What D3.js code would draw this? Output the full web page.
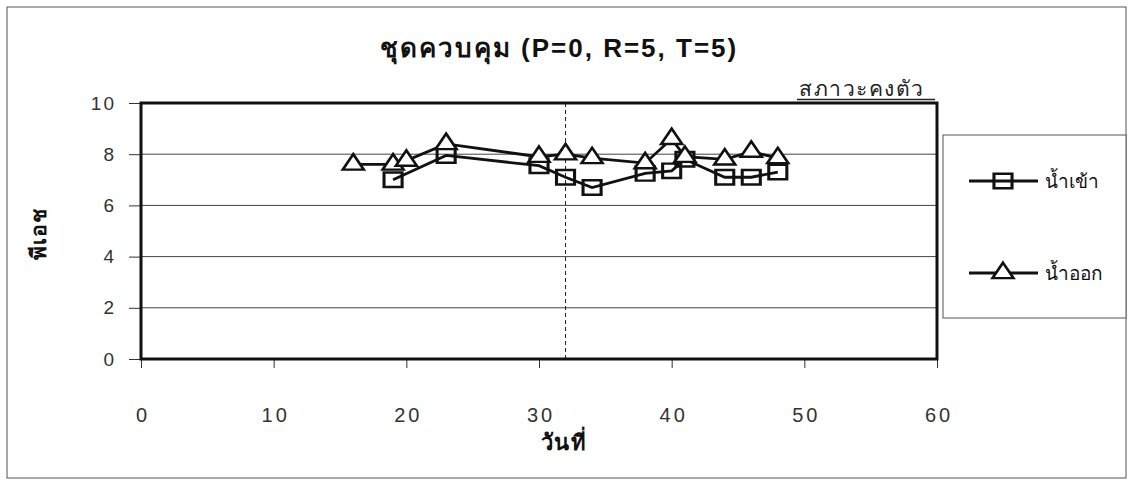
<!DOCTYPE html>
<html>
<head>
<meta charset="utf-8">
<script src="https://cdn.jsdelivr.net/npm/d3@7"></script>
<style>
    body { margin: 0; background: #fff; }
    svg { display: block; font-family: Arial, "Liberation Sans", "Noto Sans", sans-serif; }
</style>
</head>
<body>
<svg id="chart" width="1128" height="482"></svg>
<script>
// วันที่ (day) and pH readings
const inDays = [19, 23, 30, 32, 34, 38, 40, 41, 44, 46, 48];
const inPH = [7.0, 7.95, 7.55, 7.1, 6.7, 7.25, 7.35, 7.8, 7.1, 7.1, 7.3];

const outDays = [16, 19, 20, 23, 30, 32, 34, 38, 40, 41, 44, 46, 48];
const outPH = [7.6, 7.6, 7.75, 8.4, 7.9, 8.0, 7.85, 7.65, 8.6, 7.9, 7.8, 8.1, 7.85];

const xTicks = [0, 10, 20, 30, 40, 50, 60];
const yTicks = [0, 2, 4, 6, 8, 10];
const steadyDay = 32;

const title = 'ชุดควบคุม (P=0, R=5, T=5)';
const xTitle = 'วันที่';
const yTitle = 'พีเอช';
const steadyLabel = 'สภาวะคงตัว';
const seriesNames = ['น้ำเข้า', 'น้ำออก'];

const svg = d3.select('#chart');

// outer chart frame
svg.append('rect')
    .attr('x', 7).attr('y', 7)
    .attr('width', 1119).attr('height', 471)
    .attr('fill', 'none')
    .attr('stroke', '#555')
    .attr('stroke-width', 1);

const plot = { left: 141, right: 937, top: 103, bottom: 359 };

const x = d3.scaleLinear().domain([0, 60]).range([plot.left, plot.right]);
const y = d3.scaleLinear().domain([0, 10]).range([plot.bottom, plot.top]);

// gridlines
svg.append('g')
    .selectAll('line')
    .data(yTicks.filter((d) => d > 0 && d < 10))
    .enter()
    .append('line')
    .attr('x1', plot.left).attr('x2', plot.right)
    .attr('y1', (d) => y(d)).attr('y2', (d) => y(d))
    .attr('stroke', '#444')
    .attr('stroke-width', 1);

// steady-state marker
svg.append('line')
    .attr('x1', x(steadyDay)).attr('x2', x(steadyDay))
    .attr('y1', plot.top).attr('y2', plot.bottom)
    .attr('stroke', '#222')
    .attr('stroke-width', 1)
    .attr('stroke-dasharray', '4,3');

// axes
const xAxis = svg.append('g')
    .attr('transform', `translate(0,${plot.bottom})`)
    .call(d3.axisBottom(x).tickValues(xTicks).tickSize(9).tickPadding(40).tickSizeOuter(0));
xAxis.select('.domain').remove();
xAxis.selectAll('text')
    .attr('font-size', 20)
    .attr('letter-spacing', '3px')
    .attr('dx', '1.5px')
    .attr('fill', '#333');
xAxis.selectAll('line').attr('stroke', '#333');

const yAxis = svg.append('g')
    .attr('transform', `translate(${plot.left},0)`)
    .call(d3.axisLeft(y).tickValues(yTicks).tickSize(12).tickPadding(13).tickSizeOuter(0));
yAxis.select('.domain').remove();
yAxis.selectAll('text')
    .attr('font-size', 19)
    .attr('letter-spacing', '2px')
    .attr('fill', '#333');
yAxis.selectAll('line').attr('stroke', '#333');

// plot frame
svg.append('rect')
    .attr('x', plot.left).attr('y', plot.top)
    .attr('width', plot.right - plot.left)
    .attr('height', plot.bottom - plot.top)
    .attr('fill', 'none')
    .attr('stroke', '#111')
    .attr('stroke-width', 3);

// steady-state label, underlined
svg.append('text')
    .attr('x', 862).attr('y', 96)
    .attr('text-anchor', 'middle')
    .attr('font-size', 21)
    .attr('letter-spacing', '1.5px')
    .attr('fill', '#222')
    .text(steadyLabel);
svg.append('line')
    .attr('x1', 797).attr('x2', 935)
    .attr('y1', 99.5).attr('y2', 99.5)
    .attr('stroke', '#222')
    .attr('stroke-width', 1.5);

// series
const inData = inDays.map((d, i) => ({ x: d, y: inPH[i] }));
const outData = outDays.map((d, i) => ({ x: d, y: outPH[i] }));

const line = d3.line()
    .x((d) => x(d.x))
    .y((d) => y(d.y));

[inData, outData].forEach((data) => {
    svg.append('path')
        .datum(data)
        .attr('fill', 'none')
        .attr('stroke', '#111')
        .attr('stroke-width', 2.8)
        .attr('d', line);
});

const squareSym = d3.symbol().type(d3.symbolSquare).size(270);
const triSym = d3.symbol().type(d3.symbolTriangle).size(190);

svg.append('g')
    .selectAll('path')
    .data(inData)
    .enter()
    .append('path')
    .attr('transform', (d) => `translate(${x(d.x)},${y(d.y)}) scale(1.1,0.88)`)
    .attr('d', squareSym)
    .attr('fill', 'none')
    .attr('stroke', '#111')
    .attr('stroke-width', 2.8);

svg.append('g')
    .selectAll('path')
    .data(outData)
    .enter()
    .append('path')
    .attr('transform', (d) => `translate(${x(d.x)},${y(d.y)}) scale(1.0,0.85)`)
    .attr('d', triSym)
    .attr('fill', '#fff')
    .attr('stroke', '#111')
    .attr('stroke-width', 2.8);

// titles
svg.append('text')
    .attr('x', 559).attr('y', 57)
    .attr('text-anchor', 'middle')
    .attr('font-size', 26)
    .attr('font-weight', 'bold')
    .attr('letter-spacing', '2px')
    .attr('fill', '#111')
    .text(title);

svg.append('text')
    .attr('x', 564).attr('y', 450)
    .attr('text-anchor', 'middle')
    .attr('font-size', 22)
    .attr('font-weight', 'bold')
    .attr('letter-spacing', '1.5px')
    .attr('fill', '#111')
    .text(xTitle);

svg.append('text')
    .attr('transform', 'translate(46,234) rotate(-90)')
    .attr('text-anchor', 'middle')
    .attr('font-size', 21)
    .attr('font-weight', 'bold')
    .attr('letter-spacing', '1px')
    .attr('fill', '#111')
    .text(yTitle);

// legend
const legend = svg.append('g');
legend.append('rect')
    .attr('x', 943).attr('y', 135)
    .attr('width', 183).attr('height', 183)
    .attr('fill', '#fff')
    .attr('stroke', '#555')
    .attr('stroke-width', 1);

const legendRows = [
    { name: seriesNames[0], sym: squareSym, s: 'scale(1.1,0.88)', fill: 'none', cy: 181 },
    { name: seriesNames[1], sym: triSym, s: 'scale(1.0,0.85)', fill: '#fff', cy: 273 },
];

legendRows.forEach((r) => {
    legend.append('line')
        .attr('x1', 969).attr('x2', 1038)
        .attr('y1', r.cy).attr('y2', r.cy)
        .attr('stroke', '#111')
        .attr('stroke-width', 2.8);
    legend.append('path')
        .attr('transform', `translate(1003,${r.cy}) ${r.s}`)
        .attr('d', r.sym)
        .attr('fill', r.fill)
        .attr('stroke', '#111')
        .attr('stroke-width', 2.8);
    legend.append('text')
        .attr('x', 1045).attr('y', r.cy + 7)
        .attr('font-size', 19)
        .attr('fill', '#111')
        .text(r.name);
});
</script>
</body>
</html>
